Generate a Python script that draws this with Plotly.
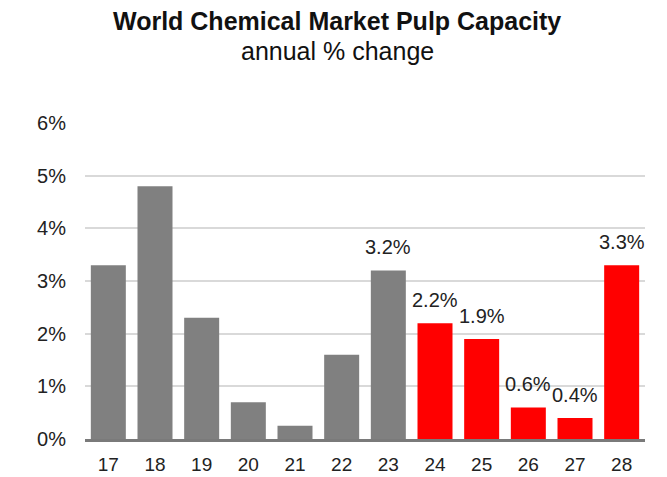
import plotly.graph_objects as go

# Annual % change in world chemical market pulp capacity
years = ["17", "18", "19", "20", "21", "22", "23", "24", "25", "26", "27", "28"]
pct_change = [3.3, 4.8, 2.3, 0.7, 0.25, 1.6, 3.2, 2.2, 1.9, 0.6, 0.4, 3.3]
forecast = [False, False, False, False, False, False, False, True, True, True, True, True]
labelled = [False, False, False, False, False, False, True, True, True, True, True, True]
y_ticks = [0, 1, 2, 3, 4, 5, 6]
y_tick_text = ["0%", "1%", "2%", "3%", "4%", "5%", "6%"]

GRAY = "#808080"
RED = "#ff0000"
FONT = "Liberation Sans, Arial, sans-serif"

bar_colors = [RED if f else GRAY for f in forecast]

fig = go.Figure(
    go.Bar(
        x=years,
        y=pct_change,
        marker=dict(color=bar_colors, line=dict(width=0)),
        hoverinfo="skip",
    )
)

# value labels above the labelled bars (category index as x)
for i, (v, show) in enumerate(zip(pct_change, labelled)):
    if show:
        fig.add_annotation(
            x=i, y=v, text=f"{v:.1f}%", showarrow=False,
            yanchor="bottom", yshift=10,
            font=dict(family=FONT, size=20, color="#222222"),
        )

# title and subtitle
fig.add_annotation(
    xref="paper", yref="paper", x=0.45, y=1, yshift=102,
    text="<b>World Chemical Market Pulp Capacity</b>", showarrow=False,
    yanchor="middle", font=dict(family=FONT, size=25, color="#111111"),
)
fig.add_annotation(
    xref="paper", yref="paper", x=0.45, y=1, yshift=72,
    text="annual % change", showarrow=False,
    yanchor="middle", font=dict(family=FONT, size=25, color="#111111"),
)

fig.update_layout(
    width=667, height=477,
    margin=dict(l=85, r=22, t=123, b=38, autoexpand=False),
    paper_bgcolor="white", plot_bgcolor="white",
    bargap=0.25,
    showlegend=False,
    font=dict(family=FONT, size=19, color="#222222"),
)
fig.update_xaxes(
    type="category", categoryorder="array", categoryarray=years,
    tickmode="array", tickvals=years, ticktext=years,
    range=[-0.5, len(years) - 0.5], automargin=False,
    showgrid=False, ticks="", showline=True,
    linecolor="#7a7a7a", linewidth=3, ticklabelstandoff=6,
    tickfont=dict(family=FONT, size=19, color="#222222"),
)
fig.update_yaxes(
    range=[0, 6], tickvals=y_ticks, ticktext=y_tick_text, automargin=False,
    showgrid=True, gridcolor="#d9d9d9", gridwidth=1.5,
    zeroline=False, showline=False, ticks="", ticklabelstandoff=18,
    tickfont=dict(family=FONT, size=20, color="#222222"),
)

fig.write_html("out.html")
